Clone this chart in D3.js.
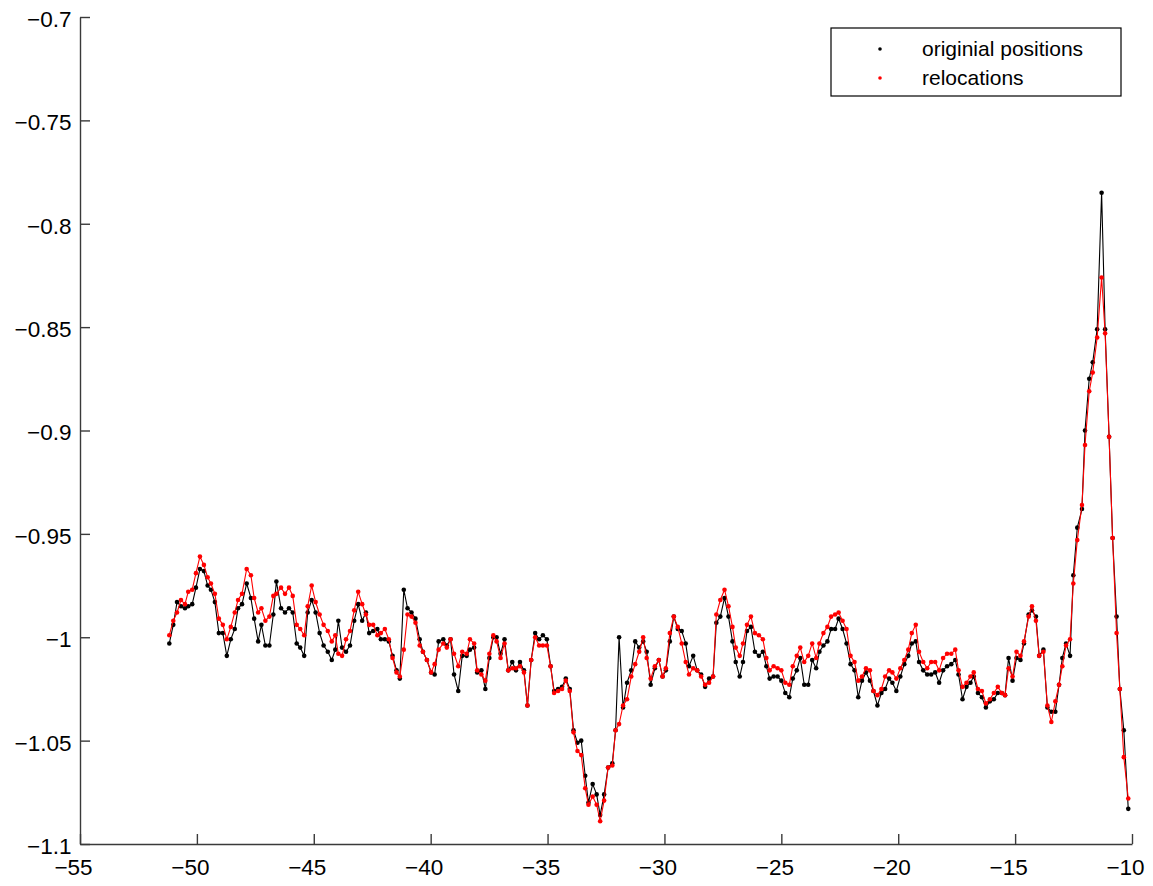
<!DOCTYPE html>
<html>
<head>
<meta charset="utf-8">
<script src="https://cdn.jsdelivr.net/npm/d3@7"></script>
<style>
  body { margin: 0; background: #fff; }
  svg { font-family: "Liberation Sans", Arial, Helvetica, sans-serif; }
  .axis path, .axis line { stroke: #3a3a3a; stroke-width: 1.4; }
  .axis text { font-size: 22.5px; fill: #000; }
</style>
</head>
<body>
<div id="vis"></div>
<script>
// sample positions (shared by both series)
var xs = [
  -51.18, -51.01, -50.85, -50.68, -50.51, -50.37, -50.20, -50.04, -49.87, -49.70,
  -49.54, -49.40, -49.23, -49.06, -48.89, -48.72, -48.55, -48.38, -48.24, -48.07,
  -47.87, -47.69, -47.55, -47.38, -47.24, -47.07, -46.90, -46.73, -46.60, -46.40,
  -46.23, -46.06, -45.90, -45.73, -45.58, -45.41, -45.26, -45.09, -44.92, -44.75,
  -44.58, -44.40, -44.23, -44.08, -43.95, -43.79, -43.62, -43.45, -43.27, -43.10,
  -42.93, -42.77, -42.63, -42.46, -42.28, -42.13, -41.96, -41.79, -41.63, -41.46,
  -41.32, -41.15, -40.99, -40.82, -40.65, -40.47, -40.33, -40.16, -39.98, -39.83,
  -39.66, -39.46, -39.31, -39.15, -39.00, -38.82, -38.65, -38.46, -38.32, -38.14,
  -38.01, -37.83, -37.66, -37.49, -37.32, -37.18, -37.01, -36.84, -36.68, -36.51,
  -36.35, -36.18, -36.01, -35.86, -35.70, -35.53, -35.36, -35.20, -35.03, -34.87,
  -34.72, -34.55, -34.38, -34.22, -34.05, -33.89, -33.72, -33.56, -33.39, -33.25,
  -33.07, -32.90, -32.75, -32.58, -32.41, -32.23, -32.09, -31.94, -31.77, -31.60,
  -31.42, -31.25, -31.08, -30.91, -30.76, -30.59, -30.41, -30.24, -30.08, -29.94,
  -29.77, -29.60, -29.43, -29.26, -29.09, -28.95, -28.77, -28.60, -28.43, -28.26,
  -28.09, -27.92, -27.78, -27.61, -27.43, -27.26, -27.09, -26.95, -26.78, -26.64,
  -26.47, -26.30, -26.13, -25.96, -25.79, -25.64, -25.50, -25.33, -25.16, -25.00,
  -24.83, -24.66, -24.51, -24.34, -24.19, -24.02, -23.85, -23.68, -23.51, -23.37,
  -23.20, -23.03, -22.87, -22.70, -22.55, -22.38, -22.21, -22.04, -21.87, -21.71,
  -21.55, -21.38, -21.21, -21.06, -20.89, -20.72, -20.56, -20.39, -20.25, -20.08,
  -19.91, -19.74, -19.57, -19.42, -19.25, -19.11, -18.93, -18.76, -18.59, -18.42,
  -18.25, -18.08, -17.91, -17.73, -17.56, -17.42, -17.25, -17.08, -16.91, -16.77,
  -16.59, -16.42, -16.25, -16.08, -15.91, -15.74, -15.57, -15.43, -15.28, -15.11,
  -14.94, -14.77, -14.62, -14.42, -14.28, -14.11, -13.97, -13.79, -13.62, -13.45,
  -13.28, -13.12, -12.98, -12.82, -12.65, -12.51, -12.34, -12.14, -12.01, -11.83,
  -11.68, -11.49, -11.30, -11.15, -10.98, -10.83, -10.66, -10.52, -10.35, -10.16
];

// black series
var originalY = [
  -1.003, -0.994, -0.983, -0.985, -0.986, -0.985, -0.984, -0.976, -0.967, -0.968,
  -0.975, -0.977, -0.983, -0.998, -0.998, -1.009, -1.001, -0.996, -0.986, -0.984,
  -0.974, -0.981, -0.991, -1.002, -0.994, -1.004, -1.004, -0.989, -0.973, -0.986,
  -0.988, -0.986, -0.988, -1.003, -1.005, -1.009, -0.988, -0.982, -0.988, -0.998,
  -1.004, -1.007, -1.011, -1.006, -0.992, -1.005, -1.007, -1.004, -0.992, -0.984,
  -0.992, -0.988, -0.998, -0.997, -0.996, -1.001, -1.001, -1.002, -1.009, -1.016,
  -1.020, -0.977, -0.986, -0.988, -0.991, -1.001, -1.007, -1.011, -1.017, -1.018,
  -1.002, -1.001, -1.004, -1.001, -1.018, -1.026, -1.009, -1.009, -1.006, -1.005,
  -1.017, -1.016, -1.025, -1.010, -1.000, -1.000, -1.008, -1.001, -1.016, -1.012,
  -1.016, -1.012, -1.016, -1.033, -1.011, -0.998, -1.001, -0.999, -1.001, -1.014,
  -1.026, -1.025, -1.024, -1.020, -1.025, -1.045, -1.051, -1.050, -1.067, -1.080,
  -1.071, -1.076, -1.086, -1.076, -1.063, -1.061, -1.045, -1.000, -1.034, -1.022,
  -1.016, -1.002, -1.005, -1.002, -1.007, -1.023, -1.015, -1.011, -1.019, -1.016,
  -1.002, -0.990, -0.996, -0.997, -1.003, -1.014, -1.009, -1.016, -1.018, -1.024,
  -1.020, -1.019, -0.993, -0.990, -0.981, -0.990, -1.002, -1.012, -1.019, -1.012,
  -0.997, -0.995, -1.007, -1.009, -1.007, -1.014, -1.020, -1.019, -1.019, -1.021,
  -1.027, -1.029, -1.020, -1.016, -1.010, -1.023, -1.023, -1.011, -1.015, -1.007,
  -1.004, -1.002, -0.996, -0.996, -0.991, -0.996, -1.003, -1.013, -1.016, -1.029,
  -1.021, -1.017, -1.021, -1.026, -1.033, -1.027, -1.025, -1.020, -1.022, -1.026,
  -1.019, -1.013, -1.009, -1.003, -1.002, -1.012, -1.016, -1.018, -1.018, -1.017,
  -1.022, -1.016, -1.014, -1.013, -1.011, -1.018, -1.030, -1.024, -1.022, -1.019,
  -1.027, -1.029, -1.034, -1.031, -1.030, -1.027, -1.027, -1.028, -1.010, -1.021,
  -1.010, -1.011, -1.003, -0.989, -0.987, -0.990, -1.009, -1.006, -1.034, -1.036,
  -1.036, -1.023, -1.010, -1.003, -1.009, -0.970, -0.947, -0.938, -0.900, -0.875,
  -0.867, -0.851, -0.785, -0.851, -0.903, -0.952, -0.990, -1.025, -1.045, -1.083
];

// red series
var relocY = [
  -0.999, -0.992, -0.988, -0.982, -0.984, -0.978, -0.977, -0.969, -0.961, -0.965,
  -0.971, -0.974, -0.979, -0.991, -0.994, -1.001, -0.995, -0.988, -0.982, -0.979,
  -0.967, -0.970, -0.981, -0.988, -0.986, -0.992, -0.990, -0.980, -0.979, -0.976,
  -0.979, -0.976, -0.980, -0.994, -0.996, -0.999, -0.985, -0.975, -0.983, -0.989,
  -0.994, -0.997, -1.002, -0.999, -1.008, -1.009, -1.001, -0.997, -0.987, -0.978,
  -0.984, -0.989, -0.994, -0.994, -0.999, -0.998, -0.996, -1.001, -1.010, -1.017,
  -1.019, -1.006, -0.989, -0.990, -0.993, -1.004, -1.007, -1.011, -1.017, -1.013,
  -1.006, -1.003, -1.005, -1.001, -1.008, -1.014, -1.007, -1.008, -1.001, -1.003,
  -1.016, -1.018, -1.021, -1.008, -0.999, -1.002, -1.010, -1.003, -1.016, -1.015,
  -1.015, -1.014, -1.017, -1.033, -1.011, -1.000, -1.004, -1.004, -1.004, -1.014,
  -1.027, -1.026, -1.025, -1.021, -1.026, -1.046, -1.055, -1.057, -1.073, -1.081,
  -1.077, -1.081, -1.089, -1.079, -1.063, -1.062, -1.045, -1.042, -1.033, -1.030,
  -1.019, -1.013, -1.007, -1.000, -1.010, -1.020, -1.014, -1.011, -1.019, -1.015,
  -0.998, -0.990, -0.995, -1.003, -1.012, -1.018, -1.015, -1.016, -1.019, -1.023,
  -1.022, -1.019, -0.989, -0.982, -0.977, -0.985, -0.995, -1.005, -1.009, -1.003,
  -0.994, -0.990, -0.998, -0.999, -1.001, -1.010, -1.016, -1.014, -1.015, -1.016,
  -1.022, -1.023, -1.014, -1.009, -1.005, -1.012, -1.009, -1.003, -1.010, -1.003,
  -0.998, -0.995, -0.990, -0.989, -0.988, -0.992, -0.996, -1.009, -1.012, -1.021,
  -1.019, -1.015, -1.016, -1.026, -1.028, -1.025, -1.019, -1.016, -1.017, -1.020,
  -1.015, -1.011, -1.006, -0.998, -0.994, -1.007, -1.012, -1.015, -1.012, -1.012,
  -1.016, -1.010, -1.008, -1.008, -1.006, -1.016, -1.024, -1.022, -1.019, -1.017,
  -1.025, -1.026, -1.032, -1.030, -1.027, -1.024, -1.027, -1.028, -1.015, -1.019,
  -1.007, -1.009, -1.002, -0.990, -0.985, -0.992, -1.009, -1.007, -1.033, -1.041,
  -1.031, -1.023, -1.014, -1.004, -1.001, -0.974, -0.953, -0.936, -0.907, -0.881,
  -0.872, -0.855, -0.826, -0.853, -0.903, -0.952, -0.998, -1.025, -1.058, -1.078
];

var xTicks = [-55, -50, -45, -40, -35, -30, -25, -20, -15, -10];
var yTicks = [-1.1, -1.05, -1, -0.95, -0.9, -0.85, -0.8, -0.75, -0.7];
var seriesNames = ["originial positions", "relocations"];
var seriesColors = ["#000000", "#ff0000"];

var width = 1153, height = 886;
var plotLeft = 80, plotRight = 1132, plotTop = 17, plotBottom = 844;

var svg = d3.select('#vis').append('svg')
  .attr('width', width)
  .attr('height', height);

var x = d3.scaleLinear().domain([-55, -10]).range([plotLeft, plotRight]);
var y = d3.scaleLinear().domain([-1.1, -0.7]).range([plotBottom, plotTop]);

function fmt(d) {
  return String(+d.toFixed(2)).replace('-', '\u2212');
}

var xAxisG = svg.append('g')
  .attr('class', 'axis')
  .attr('transform', 'translate(0,' + plotBottom + ')')
  .call(d3.axisBottom(x).tickValues(xTicks).tickFormat(fmt)
    .tickSizeInner(-10).tickSizeOuter(0).tickPadding(15));
// labels sit a little left of their ticks in the original
xAxisG.selectAll('text').attr('dx', -7);

var yAxisG = svg.append('g')
  .attr('class', 'axis')
  .attr('transform', 'translate(' + plotLeft + ',0)')
  .call(d3.axisLeft(y).tickValues(yTicks).tickFormat(fmt)
    .tickSizeInner(-10).tickSizeOuter(0).tickPadding(8.5));
yAxisG.selectAll('text').attr('dy', '0.42em');

var series = [originalY, relocY];

var line = d3.line()
  .x(function (d, i) { return x(xs[i]); })
  .y(function (d) { return y(d); });

series.forEach(function (vals, k) {
  var g = svg.append('g');
  g.append('path')
    .datum(vals)
    .attr('fill', 'none')
    .attr('stroke', seriesColors[k])
    .attr('stroke-width', 1.1)
    .attr('d', line);
  g.selectAll('circle')
    .data(vals)
    .enter().append('circle')
    .attr('cx', function (d, i) { return x(xs[i]); })
    .attr('cy', function (d) { return y(d); })
    .attr('r', 2.3)
    .attr('fill', seriesColors[k]);
});

// legend
var legend = svg.append('g').attr('transform', 'translate(831,28)');
legend.append('rect')
  .attr('width', 290).attr('height', 68)
  .attr('fill', '#fff').attr('stroke', '#000').attr('stroke-width', 1.2);
seriesNames.forEach(function (name, k) {
  legend.append('circle')
    .attr('cx', 49).attr('cy', 21 + k * 29)
    .attr('r', 1.8).attr('fill', seriesColors[k]);
  legend.append('text')
    .attr('x', 91).attr('y', 28 + k * 29)
    .style('font-size', '21px')
    .text(name);
});
</script>
</body>
</html>
